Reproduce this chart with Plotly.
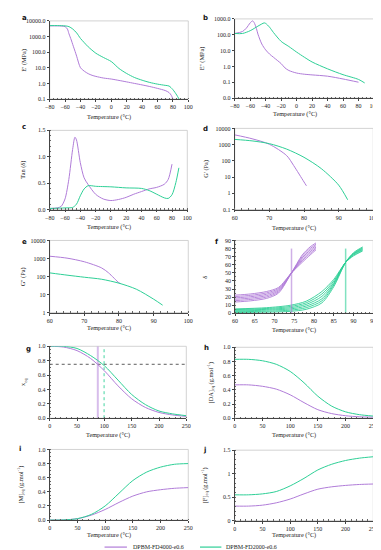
import plotly.graph_objects as go

W, H = 381, 550
PURPLE = "#b07cd8"
GREEN = "#2ecf96"
SERIF = "Liberation Serif"

# ---------------- data ----------------
# a: E' (MPa)
a_purple_x = [-80, -70, -65, -60, -57, -55, -52, -50, -47, -45, -40, -35, -30, -25, -20, -10, 0, 10, 20, 30, 40, 50, 60, 70, 75, 78, 80]
a_purple_y = [4800, 4800, 4700, 4300, 3000, 1500, 600, 300, 110, 55, 10, 6, 4.2, 3.3, 2.8, 2.2, 1.9, 1.55, 1.25, 1.0, 0.8, 0.63, 0.48, 0.35, 0.26, 0.17, 0.1]
a_green_x = [-80, -70, -60, -55, -50, -45, -40, -35, -30, -20, -10, 0, 10, 20, 30, 40, 50, 60, 70, 75, 80, 85, 88]
a_green_y = [5000, 5000, 4800, 4300, 3000, 1700, 750, 400, 220, 85, 45, 25, 9, 4.3, 2.4, 1.6, 1.15, 0.9, 0.75, 0.68, 0.4, 0.18, 0.1]

# b: E'' (MPa)
b_purple_x = [-80, -70, -65, -60, -57, -55, -52, -50, -45, -40, -35, -30, -25, -20, -15, -10, 0, 10, 20, 40, 60, 80]
b_purple_y = [120, 160, 260, 560, 750, 600, 250, 110, 26, 11, 6, 3.8, 2.4, 1.5, 0.8, 0.55, 0.38, 0.32, 0.29, 0.24, 0.16, 0.1]
b_green_x = [-80, -70, -60, -50, -45, -42, -40, -35, -30, -20, -10, 0, 10, 20, 40, 60, 80, 88]
b_green_y = [120, 120, 180, 350, 480, 560, 520, 300, 140, 38, 18, 8, 3.8, 1.9, 0.7, 0.3, 0.15, 0.09]

# c: Tan (delta)
c_purple_x = [-80, -70, -65, -60, -55, -50, -47, -45, -40, -35, -30, -20, -10, 0, 10, 20, 30, 40, 50, 60, 70, 75, 80]
c_purple_y = [0.02, 0.03, 0.06, 0.2, 0.57, 1.14, 1.37, 1.32, 0.89, 0.6, 0.48, 0.29, 0.2, 0.17, 0.19, 0.23, 0.29, 0.34, 0.39, 0.42, 0.48, 0.57, 0.86]
c_green_x = [-80, -60, -50, -45, -40, -35, -30, -25, -20, 0, 20, 40, 50, 60, 70, 75, 80, 85, 89]
c_green_y = [0.02, 0.03, 0.04, 0.1, 0.26, 0.39, 0.45, 0.45, 0.44, 0.43, 0.41, 0.40, 0.36, 0.29, 0.22, 0.21, 0.28, 0.51, 0.79]

# d: G' (Pa)
d_purple_x = [60, 65, 70, 75, 77, 80, 80.7]
d_purple_y = [4000, 2300, 1050, 210, 52, 5, 2.9]
d_green_x = [60, 65, 70, 75, 80, 85, 90, 92.6]
d_green_y = [2100, 1700, 1150, 530, 165, 33, 3.2, 0.4]

# e: G'' (Pa)
e_purple_x = [60, 65, 70, 75, 77, 80, 80.5]
e_purple_y = [1340, 1050, 660, 300, 160, 45, 41]
e_green_x = [60, 65, 70, 75, 80, 85, 90, 92.6]
e_green_y = [160, 120, 92, 71, 43, 20, 5.6, 2.6]

# f: delta vs temperature, several frequencies
f_purple_x = [60, 64, 68, 71, 74.3, 77, 79, 80.5]
f_purple_curves = [
    [22.5, 24, 27, 32, 50, 63, 72, 78.5],
    [20.8, 22.3, 25.3, 30.6, 50, 64.8, 74, 80.2],
    [19.1, 20.6, 23.6, 29.2, 50, 66.6, 76, 81.9],
    [17.4, 18.9, 21.9, 27.8, 50, 68.4, 78, 83.6],
    [15.7, 17.2, 20.2, 26.4, 50, 70.2, 80, 85.3],
    [14, 15.5, 18.5, 25, 50, 72, 82, 87],
]
f_green_x = [60, 68, 74, 78, 82, 85, 88, 90, 92.3]
f_green_curves = [
    [5.5, 7, 10, 15, 27, 42, 63, 71, 77],
    [4.7, 6, 8.5, 13, 24, 40, 63, 72, 78],
    [3.8, 5, 7, 11, 21, 38, 63, 73, 79],
    [2.8, 4, 5.5, 9, 18, 36.5, 63, 73.5, 80],
    [1.9, 2.7, 4, 7, 15.5, 35, 63, 74, 81],
    [1, 1.5, 2.5, 5, 13, 33, 63, 75, 82],
]
f_purple_tgel = 74.3
f_green_tgel = 88
f_vline_top = 80

# g-j: temperature 0..250
T = [0, 25, 50, 75, 100, 125, 150, 175, 200, 225, 250]
g_purple = [1.0, 0.99, 0.94, 0.83, 0.66, 0.45, 0.27, 0.15, 0.08, 0.045, 0.025]
g_green = [1.0, 1.0, 0.97, 0.87, 0.73, 0.53, 0.33, 0.19, 0.1, 0.06, 0.035]
g_threshold = 0.75
g_purple_t = 88
g_green_t = 99.5

h_purple = [0.47, 0.47, 0.45, 0.41, 0.33, 0.22, 0.12, 0.065, 0.035, 0.02, 0.015]
h_green = [0.83, 0.83, 0.81, 0.76, 0.66, 0.5, 0.31, 0.17, 0.09, 0.05, 0.03]

i_purple = [0, 0.002, 0.02, 0.07, 0.15, 0.25, 0.34, 0.4, 0.43, 0.45, 0.46]
i_green = [0, 0.002, 0.02, 0.08, 0.2, 0.38, 0.56, 0.68, 0.75, 0.79, 0.8]

j_purple = [0.31, 0.31, 0.33, 0.38, 0.46, 0.57, 0.67, 0.72, 0.75, 0.77, 0.78]
j_green = [0.55, 0.55, 0.57, 0.62, 0.74, 0.9, 1.08, 1.2, 1.28, 1.33, 1.36]

series_names = ["DPBM-FD4000-e0.6", "DPBM-FD2000-e0.6"]

# ---------------- layout helpers ----------------
def px_x(v):
    return v / W

def px_y(v):
    return 1 - v / H

def ax_id(k):
    return "" if k == 1 else str(k)

TICK_SIZE = 6
TITLE_SIZE = 6.3

panels = [
    dict(lab="a", xd=(37.7, 180), yd=(10, 89), xr=[-80, 100], xdt=20, xmn=5, yt="log", yr=[-1, 4], ymn=None,
         tv=[0.1, 1, 10, 100, 1000, 10000], tt=["0.1", "1.0", "10.0", "100.0", "1000.0", "10000.0"],
         ytl="E' (MPa)", lp=(7, 7), ytx=11, xty=107),
    dict(lab="b", xd=(227.7, 370.7), yd=(8, 88), xr=[-80, 100], xdt=20, xmn=5, yt="log", yr=[-2, 3], ymn=None,
         tv=[0.01, 0.1, 1, 10, 100, 1000], tt=["0.0", "0.1", "1.0", "10.0", "100.0", "1000.0"],
         ytl="E'' (MPa)", lp=(193, 7), ytx=195, xty=104),
    dict(lab="c", xd=(37.7, 179), yd=(120.7, 200.7), xr=[-80, 100], xdt=20, xmn=5, yt="linear", yr=[0, 1.5], ymn=0.1,
         tv=[0, 0.5, 1.0, 1.5], tt=["0.0", "0.5", "1.0", "1.5"],
         ytl="Tan (δ)", lp=(7, 117), ytx=10, xty=218),
    dict(lab="d", xd=(227.7, 370), yd=(118.7, 200.7), xr=[60, 100], xdt=10, xmn=2, yt="log", yr=[-1, 4], ymn=None,
         tv=[0.1, 1, 10, 100, 1000, 10000], tt=["0.1", "1", "10", "100", "1000", "10000"],
         ytl="G' (Pa)", lp=(193, 119), ytx=198, xty=219),
    dict(lab="e", xd=(37.7, 180), yd=(232, 305), xr=[60, 100], xdt=10, xmn=2, yt="log", yr=[0, 4], ymn=None,
         tv=[1, 10, 100, 1000, 10000], tt=["1", "10", "100", "1000", "10000"],
         ytl="G'' (Pa)", lp=(7, 234), ytx=10, xty=321),
    dict(lab="f", xd=(228, 370), yd=(232, 305.7), xr=[60, 95], xdt=5, xmn=1, yt="linear", yr=[0, 90], ymn=5,
         tv=list(range(0, 100, 10)), tt=[str(v) for v in range(0, 100, 10)],
         ytl="δ", lp=(205, 234), ytx=197, xty=323),
    dict(lab="g", xd=(37.7, 178), yd=(339, 411.7), xr=[0, 250], xdt=50, xmn=10, yt="linear", yr=[0, 1.0], ymn=0.05,
         tv=[0, 0.2, 0.4, 0.6, 0.8, 1.0], tt=["0.0", "0.2", "0.4", "0.6", "0.8", "1.0"],
         ytl="x<sub>eq</sub>", lp=(11, 342), ytx=11, xty=429),
    dict(lab="h", xd=(227.7, 370), yd=(340, 411.7), xr=[0, 250], xdt=50, xmn=10, yt="linear", yr=[0, 1.0], ymn=0.05,
         tv=[0, 0.2, 0.4, 0.6, 0.8, 1.0], tt=["0.0", "0.2", "0.4", "0.6", "0.8", "1.0"],
         ytl="[DA]<sub>eq</sub> (g.mol<sup>-1</sup>)", lp=(194, 341), ytx=203, xty=429),
    dict(lab="i", xd=(37.7, 180), yd=(443.3, 514.7), xr=[0, 250], xdt=50, xmn=10, yt="linear", yr=[0, 1.0], ymn=0.05,
         tv=[0, 0.2, 0.4, 0.6, 0.8, 1.0], tt=["0.0", "0.2", "0.4", "0.6", "0.8", "1.0"],
         ytl="[M]<sub>eq</sub> (g.mol<sup>-1</sup>)", lp=(4, 443), ytx=8, xty=530),
    dict(lab="j", xd=(227.7, 370), yd=(444, 515.3), xr=[0, 250], xdt=50, xmn=10, yt="linear", yr=[0, 1.5], ymn=0.1,
         tv=[0, 0.5, 1.0, 1.5], tt=["0", "0.5", "1", "1.5"],
         ytl="[F]<sub>eq</sub> (g.mol<sup>-1</sup>)", lp=(193, 444), ytx=197, xty=530),
]

fig = go.Figure()

def add_line(k, x, y, color, width=1.0, dash=None, opacity=1.0, shape="spline"):
    fig.add_trace(go.Scatter(
        x=x, y=y, mode="lines", xaxis="x" + ax_id(k), yaxis="y" + ax_id(k),
        line=dict(color=color, width=width, dash=dash, shape=shape, smoothing=0.8),
        opacity=opacity, showlegend=False, hoverinfo="skip"))

# a-e
add_line(1, a_purple_x, a_purple_y, PURPLE)
add_line(1, a_green_x, a_green_y, GREEN)
add_line(2, b_purple_x, b_purple_y, PURPLE)
add_line(2, b_green_x, b_green_y, GREEN)
add_line(3, c_purple_x, c_purple_y, PURPLE)
add_line(3, c_green_x, c_green_y, GREEN)
add_line(4, d_purple_x, d_purple_y, PURPLE)
add_line(4, d_green_x, d_green_y, GREEN)
add_line(5, e_purple_x, e_purple_y, PURPLE)
add_line(5, e_green_x, e_green_y, GREEN)

# f
for cy in f_purple_curves:
    add_line(6, f_purple_x, cy, PURPLE, width=0.9)
for cy in f_green_curves:
    add_line(6, f_green_x, cy, GREEN, width=0.9)
add_line(6, [f_purple_tgel, f_purple_tgel], [0, f_vline_top], PURPLE, width=1.5, opacity=0.6, shape="linear")
add_line(6, [f_green_tgel, f_green_tgel], [0, f_vline_top], GREEN, width=1.5, opacity=0.6, shape="linear")

# g
add_line(7, [T[0], T[-1]], [g_threshold, g_threshold], "#333333", width=0.8, dash="dot", shape="linear")
add_line(7, [g_purple_t, g_purple_t], [0, 1.0], PURPLE, width=2, opacity=0.5, shape="linear")
add_line(7, [g_green_t, g_green_t], [0, 1.0], GREEN, width=0.9, dash="dot", shape="linear")
add_line(7, T, g_purple, PURPLE)
add_line(7, T, g_green, GREEN)

# h-j
add_line(8, T, h_purple, PURPLE)
add_line(8, T, h_green, GREEN)
add_line(9, T, i_purple, PURPLE)
add_line(9, T, i_green, GREEN)
add_line(10, T, j_purple, PURPLE)
add_line(10, T, j_green, GREEN)

layout = dict(
    width=W, height=H, margin=dict(l=0, r=0, t=0, b=0),
    paper_bgcolor="white", plot_bgcolor="white", showlegend=False,
    font=dict(family=SERIF, size=TICK_SIZE, color="#222"),
)
annotations = []
shapes = []
for k, p in enumerate(panels, start=1):
    s = ax_id(k)
    x0, x1 = px_x(p["xd"][0]), px_x(p["xd"][1])
    y0, y1 = px_y(p["yd"][1]), px_y(p["yd"][0])
    layout["xaxis" + s] = dict(
        domain=[x0, x1], anchor="y" + s, range=p["xr"], dtick=p["xdt"], tick0=p["xr"][0],
        showgrid=False, zeroline=False, showline=True, linecolor="#444", linewidth=0.8,
        ticks="outside", ticklen=2, tickwidth=0.6, tickcolor="#444", ticklabeloverflow="allow",
        tickfont=dict(family=SERIF, size=TICK_SIZE, color="#222"),
        minor=dict(ticks="inside", ticklen=1.5, tickwidth=0.5, tickcolor="#666", dtick=p["xmn"], showgrid=False),
        fixedrange=True,
    )
    ya = dict(
        domain=[y0, y1], anchor="x" + s, type=p["yt"], range=p["yr"],
        tickmode="array", tickvals=p["tv"], ticktext=p["tt"], ticklabeloverflow="allow",
        showgrid=False, zeroline=False, showline=True, linecolor="#444", linewidth=0.8,
        ticks="outside", ticklen=2, tickwidth=0.6, tickcolor="#444",
        tickfont=dict(family=SERIF, size=TICK_SIZE, color="#222"), fixedrange=True,
    )
    if p["ymn"] is not None:
        ya["minor"] = dict(ticks="inside", ticklen=1.5, tickwidth=0.5, tickcolor="#666",
                           tickmode="linear", tick0=0, dtick=p["ymn"], showgrid=False)
    layout["yaxis" + s] = ya
    shapes.append(dict(type="rect", xref="x" + s + " domain", yref="y" + s + " domain", x0=0, x1=1, y0=0, y1=1,
                       line=dict(color="#c8c8c8", width=0.8), layer="below"))
    annotations.append(dict(text=f"<b>{p['lab']}</b>", x=px_x(p["lp"][0]), y=px_y(p["lp"][1]),
                            xref="paper", yref="paper", xanchor="left", yanchor="middle", showarrow=False,
                            font=dict(family="DejaVu Sans", size=7, color="#111")))
    yc = (p["yd"][0] + p["yd"][1]) / 2
    annotations.append(dict(text=p["ytl"], x=px_x(p["ytx"]), y=px_y(yc), xref="paper", yref="paper",
                            xanchor="center", yanchor="middle", textangle=-90, showarrow=False,
                            font=dict(family=SERIF, size=TITLE_SIZE, color="#222")))
    xc = (p["xd"][0] + p["xd"][1]) / 2 - 10
    annotations.append(dict(text="Temperature (°C)", x=px_x(xc), y=px_y(p["xty"]), xref="paper", yref="paper",
                            xanchor="center", yanchor="middle", showarrow=False,
                            font=dict(family=SERIF, size=TITLE_SIZE, color="#222")))

# legend (drawn manually)
leg_y = 542
for (lx0, lx1, tx), name, col in zip([(94, 117, 121), (192, 214, 217)], series_names, [PURPLE, GREEN]):
    shapes.append(dict(type="line", xref="paper", yref="paper", x0=px_x(lx0), x1=px_x(lx1),
                       y0=px_y(leg_y), y1=px_y(leg_y), line=dict(color=col, width=1.2)))
    annotations.append(dict(text=name, x=px_x(tx), y=px_y(leg_y), xref="paper", yref="paper",
                            xanchor="left", yanchor="middle", showarrow=False,
                            font=dict(family=SERIF, size=TICK_SIZE, color="#222")))

layout["annotations"] = annotations
layout["shapes"] = shapes
fig.update_layout(**layout)
fig.write_html("out.html")
